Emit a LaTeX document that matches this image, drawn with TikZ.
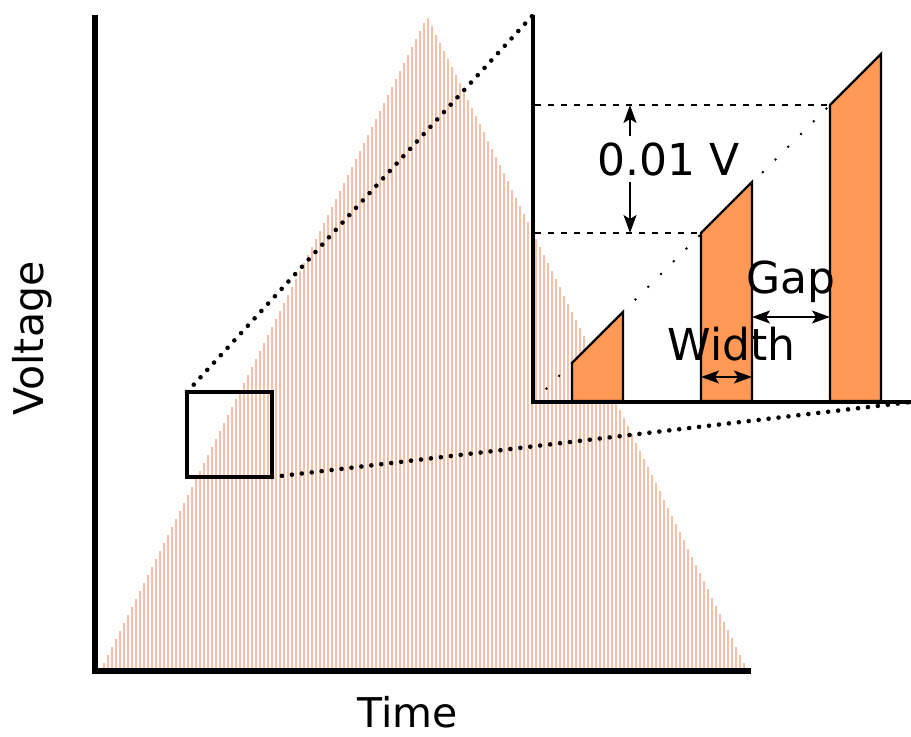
\documentclass[tikz,border=0pt]{standalone}
\usepackage{fontspec}
\setmainfont{DejaVu Sans}
\usetikzlibrary{arrows.meta}

\definecolor{pulseline}{RGB}{236,130,80}
\definecolor{pulsefill}{RGB}{255,153,85}

\begin{document}
\begin{tikzpicture}[
    x=0.5pt, y=-0.5pt,
    axis/.style={line width=3.4pt},
    insetaxis/.style={line width=2.2pt},
    pulse/.style={draw=pulseline, draw opacity=0.5, line width=0.6pt},
    bar/.style={draw, line width=1.2pt, fill=pulsefill},
    zoombox/.style={draw, line width=1.7pt},
    zoomline/.style={line width=2.3pt, line cap=round, dash pattern=on 0pt off 5pt},
    level/.style={line width=0.8pt, dash pattern=on 3pt off 3.5pt},
    ramp/.style={line width=1pt, dash pattern=on 1pt off 8pt},
    dim/.style={{Stealth[length=9pt,width=6.5pt,inset=2pt]}-{Stealth[length=9pt,width=6.5pt,inset=2pt]}, line width=0.7pt},
    lbl/.style={font=\fontsize{20.5}{24}\selectfont, inner sep=0pt},
    insetlbl/.style={font=\fontsize{22}{26}\selectfont, inner sep=0pt},
]
\useasboundingbox (0,0) rectangle (911,736);

% Main plot: pulse train under a triangle
\foreach \x in {100,104,...,748}{
    \pgfmathsetmacro{\ytip}{671-min((\x-100)*2.0,(748-\x)*2.04)}
    \draw[pulse] (\x,671) -- (\x,\ytip);
}
\coordinate (ytop) at (95,15);
\coordinate (origin) at (95,671);
\coordinate (xend) at (751,671);
\draw[axis] (ytop) -- (origin) -- (xend);
\node[lbl, anchor=base] (time) at (407.5,727) {Time};
\node[lbl, rotate=90, anchor=base] (voltage) at (43,338.5) {Voltage};

% Zoom window
\coordinate (zoomtl) at (187,392);
\coordinate (zoombr) at (272,477);
\draw[zoombox] (zoomtl) rectangle (zoombr);

% Inset axes
\coordinate (iytop) at (533,15);
\coordinate (iorigin) at (533,402);
\coordinate (ixend) at (911,402);
\draw[zoomline] (zoomtl) -- (iytop);
\draw[zoomline] (zoombr) -- (ixend);

% Inset: levels and ramp
\coordinate (lvlhi) at (535,105);
\coordinate (lvllo) at (535,233);
\coordinate (bar3tl) at (830,105);
\coordinate (bar2tl) at (701,233);
\draw[level] (lvlhi) -- (bar3tl);
\draw[level] (lvllo) -- (bar2tl);
\draw[ramp] (iorigin) -- (bar3tl);

% Inset: pulses
\draw[bar] (572,401) -- (572,363) -- (623,312) -- (623,401) -- cycle;
\draw[bar] (701,401) -- (bar2tl) -- (752,182) -- (752,401) -- cycle;
\draw[bar] (830,401) -- (bar3tl) -- (881,54) -- (881,401) -- cycle;
\draw[insetaxis] (iytop) -- (iorigin) -- (ixend);

% Inset: dimensions
\coordinate (vtop) at (630,105);
\coordinate (vbot) at (630,233);
\draw[dim] (vtop) -- (vbot);
\node[insetlbl, fill=white, inner ysep=3pt, anchor=base] (step) at (669,175) {0.01 V};

\coordinate (wleft) at (701,377);
\coordinate (wright) at (752,377);
\coordinate (gright) at (830,317);
\coordinate (gleft) at (752,317);
\draw[dim] (wleft) -- (wright);
\draw[dim] (gleft) -- (gright);
\node[insetlbl, anchor=base] (width) at (731.5,360.5) {Width};
\node[insetlbl, anchor=base] (gap) at (790.5,293) {Gap};
\end{tikzpicture}
\end{document}
